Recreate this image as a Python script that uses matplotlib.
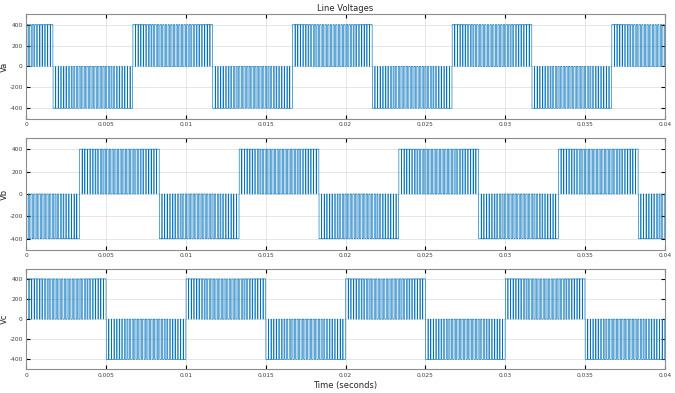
import numpy as np
import matplotlib
matplotlib.use("Agg")
import matplotlib.pyplot as plt

# ---- data ----
amplitude = 400
block_len = 0.005          # length of one polarity block (s)
pulses_per_block = 30
# duty of each PWM pulse inside a block (fraction of carrier period at +/-400)
duty = [0.92, 0.88, 0.84, 0.80, 0.76, 0.72, 0.68, 0.64, 0.60, 0.57,
        0.54, 0.51, 0.49, 0.47, 0.46, 0.46, 0.47, 0.49, 0.51, 0.54,
        0.57, 0.60, 0.64, 0.68, 0.72, 0.76, 0.80, 0.84, 0.88, 0.92]

va_edges = [0.0, 0.00167, 0.00667, 0.01167, 0.01667, 0.02167, 0.02667, 0.03167, 0.03667, 0.04]
va_signs = [1, -1, 1, -1, 1, -1, 1, -1, 1]
vb_edges = [0.0, 0.00333, 0.00833, 0.01333, 0.01833, 0.02333, 0.02833, 0.03333, 0.03833, 0.04]
vb_signs = [-1, 1, -1, 1, -1, 1, -1, 1, -1]
vc_edges = [0.0, 0.005, 0.01, 0.015, 0.02, 0.025, 0.03, 0.035, 0.04]
vc_signs = [1, -1, 1, -1, 1, -1, 1, -1]

labels = ["Va", "Vb", "Vc"]
xticks = [0, 0.005, 0.01, 0.015, 0.02, 0.025, 0.03, 0.035, 0.04]
xticklabels = ["0", "0.005", "0.01", "0.015", "0.02", "0.025", "0.03", "0.035", "0.04"]
yticks = [-400, -200, 0, 200, 400]
yticklabels = ["-400", "-200", "0", "200", "400"]
title = "Line Voltages"
xlabel = "Time (seconds)"


def pwm_wave(edges, signs):
    """Build a step waveform: inside each block, pulses between 0 and sign*amplitude."""
    tc = block_len / pulses_per_block
    ref = edges[1]
    ts, vs = [], []
    for i, s in enumerate(signs):
        t0, t1 = edges[i], edges[i + 1]
        k0 = int(np.floor((t0 - ref) / tc))
        k1 = int(np.ceil((t1 - ref) / tc))
        for k in range(k0, k1):
            cs = ref + k * tc
            pos = k % pulses_per_block
            d = duty[pos]
            on_start = cs + (1 - d) * tc / 2
            on_end = cs + (1 + d) * tc / 2
            for a, b, v in [(cs, on_start, 0), (on_start, on_end, s * amplitude),
                            (on_end, cs + tc, 0)]:
                a2, b2 = max(a, t0), min(b, t1)
                if b2 > a2:
                    ts.append(a2)
                    vs.append(v)
    ts.append(edges[-1])
    vs.append(vs[-1])
    return np.array(ts), np.array(vs)


fig = plt.figure(figsize=(6.75, 3.93), dpi=100)
positions = [
    [0.039, 0.698, 0.946, 0.266],
    [0.039, 0.364, 0.946, 0.285],
    [0.039, 0.060, 0.946, 0.256],
]
phases = [(va_edges, va_signs), (vb_edges, vb_signs), (vc_edges, vc_signs)]
color = "#0072BD"

for idx, (pos, (edges, signs)) in enumerate(zip(positions, phases)):
    ax = fig.add_axes(pos)
    t, v = pwm_wave(edges, signs)
    ax.plot(t, v, drawstyle="steps-post", color=color, linewidth=0.45)
    ax.set_xlim(0, 0.04)
    ax.set_ylim(-500, 500)
    ax.set_xticks(xticks)
    ax.set_xticklabels(xticklabels)
    ax.set_yticks(yticks)
    ax.set_yticklabels(yticklabels)
    ax.grid(True, color="#dcdcdc", linewidth=0.5)
    ax.set_axisbelow(True)
    ax.tick_params(direction="in", length=3, width=0.8, labelsize=4.2,
                   colors="black", labelcolor="#404040", top=True, right=True,
                   pad=2.5)
    for sp in ax.spines.values():
        sp.set_color("#8c8c8c")
        sp.set_linewidth(0.8)
    ax.set_ylabel(labels[idx], fontsize=6, color="#262626")
    ax.yaxis.set_label_coords(-0.027, 0.5)
    if idx == 0:
        ax.set_title(title, fontsize=6, color="#262626", pad=2)
    if idx == 2:
        ax.set_xlabel(xlabel, fontsize=6, color="#262626", labelpad=2)

fig.savefig("out.png", dpi=100)
